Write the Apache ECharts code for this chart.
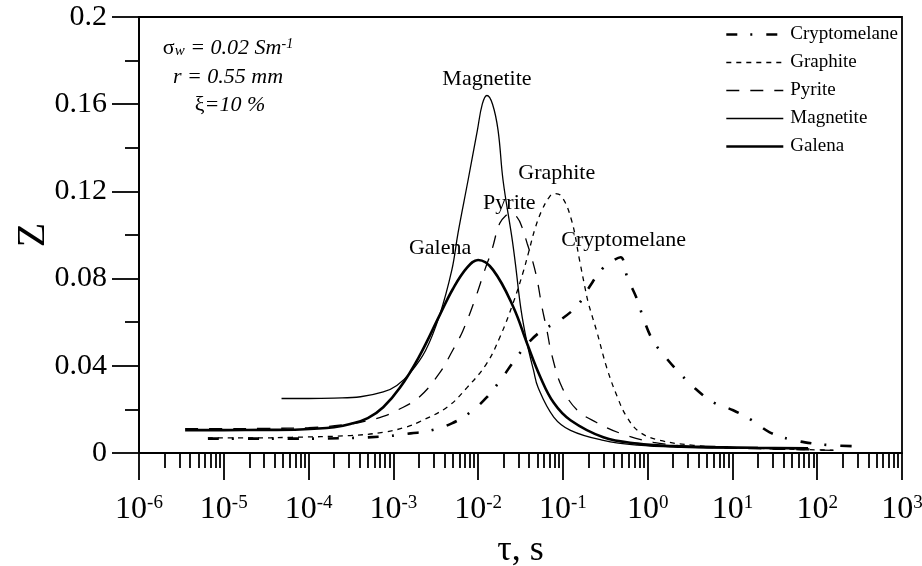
<!DOCTYPE html>
<html><head><meta charset="utf-8">
<script src="https://cdn.jsdelivr.net/npm/echarts@6/dist/echarts.min.js"></script>
<style>html,body{margin:0;padding:0;background:#fff}#c{width:922px;height:566px}</style>
</head><body><div id="c"></div>
<script>
// ---- data (tau in s, Z dimensionless) ----
const galenaTau = [3.5e-6,1e-5,3.2e-5,7.9e-5,2.0e-4,3.1e-4,5.0e-4,7.6e-4,1.2e-3,2.0e-3,3.5e-3,5.0e-3,7.4e-3,1.0e-2,1.5e-2,2.6e-2,3.8e-2,5.4e-2,7.8e-2,0.123,0.30,0.76,2.0,6.3,20,78];
const galenaZ   = [0.0105,0.0105,0.0106,0.0108,0.0118,0.0133,0.016,0.021,0.030,0.044,0.063,0.075,0.085,0.0885,0.084,0.067,0.050,0.035,0.023,0.015,0.0072,0.0043,0.0032,0.0027,0.0024,0.0022];

const magnetiteTau = [4.8e-5,1e-4,2.0e-4,4.1e-4,7.6e-4,1.1e-3,1.6e-3,2.4e-3,3.5e-3,4.9e-3,5.8e-3,7.6e-3,9.8e-3,1.12e-2,1.27e-2,1.48e-2,1.72e-2,1.97e-2,2.5e-2,2.75e-2,3.2e-2,3.8e-2,4.5e-2,5.1e-2,7.8e-2,0.123,0.30,0.76,2.5,10,32,81];
const magnetiteZ   = [0.025,0.025,0.0252,0.0258,0.028,0.031,0.037,0.047,0.063,0.084,0.101,0.125,0.148,0.160,0.164,0.160,0.148,0.125,0.099,0.087,0.066,0.050,0.038,0.030,0.0165,0.0104,0.0058,0.0036,0.0026,0.0022,0.0020,0.0019];

const pyriteTau = [3.5e-6,1e-5,3.2e-5,1e-4,3.1e-4,4.9e-4,7.6e-4,1.1e-3,2.0e-3,3.5e-3,5.0e-3,6.6e-3,9.1e-3,1.2e-2,1.45e-2,1.8e-2,2.2e-2,2.4e-2,2.9e-2,3.3e-2,3.8e-2,4.4e-2,5.0e-2,5.6e-2,6.5e-2,7.4e-2,9.8e-2,0.148,0.25,0.48,1.17,4.0,16,63,155];
const pyriteZ   = [0.0112,0.0112,0.0113,0.0116,0.0133,0.0148,0.0168,0.0195,0.0255,0.0366,0.047,0.056,0.070,0.084,0.093,0.1054,0.1095,0.110,0.108,0.1035,0.096,0.088,0.079,0.068,0.056,0.045,0.030,0.0196,0.014,0.009,0.0049,0.0028,0.0020,0.0015,0.0012];

const graphiteTau = [6.5e-6,2.0e-5,6.3e-5,3.1e-4,7.6e-4,1.45e-3,2.0e-3,4.3e-3,7.4e-3,1.26e-2,1.8e-2,2.6e-2,3.4e-2,4.0e-2,4.7e-2,5.6e-2,6.8e-2,7.8e-2,9.5e-2,0.126,0.158,0.182,0.20,0.25,0.33,0.44,0.57,0.81,1.4,3.5,10,40,155];
const graphiteZ   = [0.0069,0.0069,0.0072,0.008,0.0095,0.012,0.0142,0.021,0.030,0.041,0.053,0.069,0.083,0.093,0.103,0.111,0.117,0.119,0.118,0.107,0.088,0.076,0.0687,0.056,0.039,0.0256,0.0164,0.0095,0.0058,0.0035,0.0025,0.0018,0.0013];

const cryptoTau = [6.5e-6,2.0e-5,6.3e-5,2.5e-4,8.5e-4,1.6e-3,2.7e-3,4.9e-3,8.1e-3,1.26e-2,1.8e-2,2.6e-2,3.8e-2,5.6e-2,9.3e-2,0.151,0.20,0.295,0.40,0.48,0.575,0.76,0.89,1.15,1.62,2.4,3.6,5.9,10.2,17,27.5,48,87,155,290];
const cryptoZ   = [0.0066,0.0066,0.0066,0.0068,0.0077,0.009,0.0102,0.0136,0.0187,0.0255,0.033,0.0417,0.050,0.056,0.061,0.068,0.0755,0.0847,0.0885,0.0898,0.0806,0.070,0.0617,0.0517,0.044,0.0365,0.0297,0.0233,0.0196,0.015,0.0095,0.0063,0.0044,0.0035,0.0031];

const seriesNames = ['Cryptomelane','Graphite','Pyrite','Magnetite','Galena'];
const majorTicks = [1e-6,1e-5,1e-4,1e-3,1e-2,1e-1,1e0,1e1,1e2,1e3];
const yTicks = [0,0.04,0.08,0.12,0.16,0.2];

// ---- styles ----
const FONT = 'Liberation Serif';
const styles = {
  Cryptomelane: { width: 2.6, type: [11, 13, 2, 14], off: [3, -17] },
  Graphite:     { width: 1.3, type: [5, 5],           off: [3, -20] },
  Pyrite:       { width: 1.3, type: [13, 11],         off: [-1, -10] },
  Magnetite:    { width: 1.3, type: 'solid',          off: [0, -16] },
  Galena:       { width: 2.6, type: 'solid',          off: [-38, -12] }
};

// ---- helpers ----
const minorTicks = [];
majorTicks.slice(0,-1).forEach(d => { for (let m = 2; m <= 9; m++) minorTicks.push(m * d); });
const pairs = (t, z) => t.map((v, i) => [v, z[i]]);
function peakPoint(t, z) { let k = 0; z.forEach((v, i) => { if (v > z[k]) k = i; }); return [t[k], z[k]]; }

function mkSeries(name, t, z) {
  const s = styles[name];
  return {
    name, type: 'line', data: pairs(t, z), symbol: 'none', smooth: 0.4,
    lineStyle: { color: '#000', width: s.width, type: s.type, cap: 'butt' },
    itemStyle: { color: '#000' },
    markPoint: {
      symbol: 'circle', symbolSize: 1, silent: true, itemStyle: { color: 'rgba(0,0,0,0)' },
      label: { show: true, position: 'inside', offset: s.off, formatter: name, color: '#000', fontSize: 22, fontFamily: FONT },
      data: [{ coord: peakPoint(t, z) }]
    }
  };
}

const axisLineStyle = { color: '#000', width: 1.8 };
const chart = echarts.init(document.getElementById('c'), null, { renderer: 'canvas' });
chart.setOption({
  animation: false,
  backgroundColor: '#fff',
  grid: { left: 139, right: 20, top: 17, bottom: 113, outerBoundsMode: 'none', containLabel: false,
          show: true, borderColor: '#000', borderWidth: 1.8 },
  legend: {
    orient: 'vertical', left: 720, top: 20, itemWidth: 57, itemHeight: 14, itemGap: 9,
    data: seriesNames.map(n => ({ name: n, lineStyle: { width: styles[n].width, type: styles[n].type, color: '#000', cap: 'butt' } })),
    itemStyle: { color: 'rgba(0,0,0,0)', borderWidth: 0 },
    textStyle: { fontSize: 19, fontFamily: FONT, color: '#000', padding: [0, 0, 0, 2] }
  },
  xAxis: [{
    type: 'log', logBase: 10, min: 1e-6, max: 1e3,
    axisLine: { show: true, onZero: false, lineStyle: axisLineStyle },
    axisTick: { show: true, customValues: majorTicks, length: 27, inside: false, lineStyle: axisLineStyle },
    axisLabel: {
      customValues: majorTicks, margin: 41, color: '#000',
      formatter: v => '{b|10}{s|' + Math.round(Math.log10(v)) + '}',
      rich: {
        b: { fontSize: 32, fontFamily: FONT, color: '#000', lineHeight: 32, padding: [5, 0, 0, 0], verticalAlign: 'bottom' },
        s: { fontSize: 19, fontFamily: FONT, color: '#000', lineHeight: 19, verticalAlign: 'top' }
      }
    },
    splitLine: { show: false },
    name: 'τ, s', nameLocation: 'middle', nameGap: 80, nameMoveOverlap: false,
    nameTextStyle: { fontSize: 36, fontFamily: FONT, color: '#000' }
  }, {
    type: 'log', logBase: 10, min: 1e-6, max: 1e3, position: 'bottom',
    axisLine: { show: false },
    axisTick: { show: true, customValues: minorTicks, length: 15, inside: false, lineStyle: axisLineStyle },
    axisLabel: { show: false },
    splitLine: { show: false }
  }],
  yAxis: {
    type: 'value', min: yTicks[0], max: yTicks[yTicks.length - 1], interval: 0.04,
    axisLine: { show: true, lineStyle: axisLineStyle },
    axisTick: { show: true, length: 27, inside: false, lineStyle: axisLineStyle },
    minorTick: { show: true, splitNumber: 2, length: 14, lineStyle: axisLineStyle },
    axisLabel: { margin: 32, fontSize: 30, fontFamily: FONT, color: '#000', formatter: v => String(Number(v.toFixed(2))) },
    splitLine: { show: false },
    name: 'Z', nameLocation: 'middle', nameGap: 86, nameMoveOverlap: false,
    nameTextStyle: { fontSize: 40, fontFamily: FONT, color: '#000' }
  },
  graphic: [
    { type: 'text', x: 228, y: 48, silent: true, style: {
      text: '{g|σ}{sub|w}{i| = 0.02 Sm}{sup|-1}', align: 'center', verticalAlign: 'middle',
      rich: {
        g: { fontSize: 22, fontFamily: FONT, fill: '#000', lineHeight: 22 },
        sub: { fontSize: 15, fontFamily: FONT, fontStyle: 'italic', fill: '#000', lineHeight: 15, verticalAlign: 'bottom' },
        i: { fontSize: 22, fontFamily: FONT, fontStyle: 'italic', fill: '#000', lineHeight: 22 },
        sup: { fontSize: 14, fontFamily: FONT, fontStyle: 'italic', fill: '#000', lineHeight: 14, verticalAlign: 'top' }
      } } },
    { type: 'text', x: 228, y: 77, silent: true, style: {
      text: 'r = 0.55 mm', align: 'center', verticalAlign: 'middle',
      font: 'italic 22px "Liberation Serif"', fill: '#000' } },
    { type: 'text', x: 230, y: 105, silent: true, style: {
      text: '{g|ξ}{i|=10 %}', align: 'center', verticalAlign: 'middle',
      rich: {
        g: { fontSize: 22, fontFamily: FONT, fill: '#000', lineHeight: 22 },
        i: { fontSize: 22, fontFamily: FONT, fontStyle: 'italic', fill: '#000', lineHeight: 22 }
      } } }
  ],
  series: [
    mkSeries('Cryptomelane', cryptoTau, cryptoZ),
    mkSeries('Graphite', graphiteTau, graphiteZ),
    mkSeries('Pyrite', pyriteTau, pyriteZ),
    mkSeries('Magnetite', magnetiteTau, magnetiteZ),
    mkSeries('Galena', galenaTau, galenaZ)
  ]
});
</script></body></html>
